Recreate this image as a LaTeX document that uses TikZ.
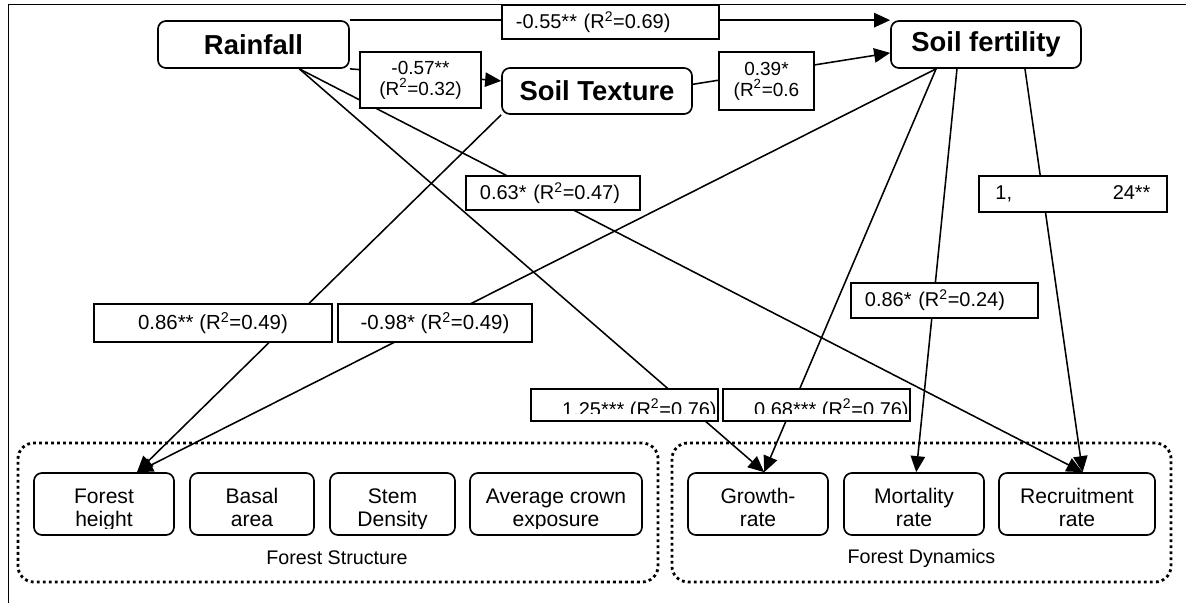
\documentclass[tikz,border=0pt]{standalone}
\usepackage{fontspec}
\setmainfont{Liberation Sans}
\usetikzlibrary{arrows.meta}

\newcommand{\rtwo}{\textsuperscript{2}}

\begin{document}
\begin{tikzpicture}[x=0.025cm, y=-0.025cm,
    var/.style={draw, line width=1.2pt, rounded corners=0.2cm, inner sep=0pt,
      minimum width=4.75cm, minimum height=1.175cm,
      font=\bfseries\fontsize{19.5}{22}\selectfont},
    item/.style={draw, line width=1.2pt, rounded corners=0.2cm, inner sep=0pt,
      minimum height=1.55cm,
      path picture={
        \clip ([yshift=0.175cm]path picture bounding box.south west)
          rectangle (path picture bounding box.north east);
        \node[align=center, inner sep=0pt, font=\fontsize{15}{17}\selectfont]
          at ([yshift=-0.155cm]path picture bounding box.center) {\strut #1\strut};}},
    group/.style={draw, line width=0.07cm, dash pattern=on 0.07cm off 0.08cm,
      rounded corners=0.4cm, minimum height=3.475cm, inner sep=0pt},
    title/.style={font=\fontsize{14}{16}\selectfont},
    coef/.style={draw, fill=white, line width=1.3pt, inner xsep=0.35cm, inner ysep=0pt,
      align=left, font=\fontsize{14.2}{16}\selectfont},
    coefc/.style={draw, fill=white, line width=1.3pt, inner sep=0pt,
      align=center, font=\fontsize{13.5}{15}\selectfont},
    cutcoef/.style={draw, fill=white, line width=1.3pt, inner sep=0pt,
      minimum width=4.675cm, minimum height=0.8cm,
      path picture={
        \clip ([yshift=0.2cm]path picture bounding box.south west)
          rectangle (path picture bounding box.north east);
        \node[anchor=base west, inner sep=0pt, font=\fontsize{14.2}{16}\selectfont]
          at ([xshift=0.35cm, yshift=-0.275cm]path picture bounding box.west) {#1};}}]
  \useasboundingbox (0,0) rectangle (1186,603);
  \draw[line width=1.2pt] (8.5,603) -- (8.5,4.5) -- (1186,4.5);

  % groups
  \node[group, minimum width=16cm] (fs) at (338,512.5) {};
  \node[group, minimum width=12.475cm] (fd) at (921.5,512.5) {};
  \node[title] (fstitle) at (337,558) {Forest Structure};
  \node[title] (fdtitle) at (921.5,558) {Forest Dynamics};

  % drivers
  \node[var, minimum width=4.775cm] (rain) at (253.5,44.5) {Rainfall};
  \node[var] (fert) at (986,44.5) {Soil fertility};
  \node[var, minimum height=1.15cm] (tex) at (597,91) {Soil Texture};

  % forest variables
  \node[item={Forest\\height}, minimum width=3.5cm] (fh) at (104,504) {};
  \node[item={Basal\\area}, minimum width=3.1cm] (ba) at (252,504) {};
  \node[item={Stem\\Density}, minimum width=3.125cm] (sd) at (392.5,504) {};
  \node[item={Average crown\\exposure}, minimum width=4.3cm] (ac) at (556,504) {};
  \node[item={Growth-\\rate}, minimum width=3.5cm] (gr) at (758,504) {};
  \node[item={Mortality\\rate}, minimum width=3.5cm] (mo) at (914,504) {};
  \node[item={Recruitment\\rate}, minimum width=3.9cm] (re) at (1077,504) {};

  \begin{scope}[-{Triangle[length=0.4cm, width=0.36cm]}, line width=1.1pt]
    \draw (rain.north east) to (fert.north west);
    \draw (rain.south east) to (tex.174.6);
    \draw (tex.4.8) to (fert.-175.5);
    \draw (rain.-28.4) to (gr.79);
    \draw (rain.-28.4) to (re.80.8);
    \draw (tex.south west) to (fh.44.1);
    \draw (fert.-154.8) to (fh.44.1);
    \draw (fert.-154.8) to (gr.79);
    \draw (fert.-140) to (mo.86.3);
    \draw (fert.-32.4) to (re.80.8);
  \end{scope}

  % coefficients
  \node[coef, text width=4.725cm, minimum height=0.85cm] (c1) at (610.5,22) {-0.55** (R\rtwo=0.69)};
  \node[coefc, minimum width=3.025cm, minimum height=1.4cm] (c2) at (420.5,80) {-0.57**\\(R\rtwo=0.32)};
  \node[coefc, minimum width=2.375cm, minimum height=1.45cm] (c3) at (766.5,81) {0.39*\\(R\rtwo=0.6};
  \node[coef, text width=3.65cm, minimum height=0.85cm] (c4) at (553,193) {0.63* (R\rtwo=0.47)};
  \node[coef, text width=3.875cm, inner xsep=0.4125cm, minimum height=0.9cm] (c5) at (1073,194) {1,\hfill 24**};
  \node[coefc, font=\fontsize{14.5}{16}\selectfont, minimum width=5.95cm, minimum height=0.95cm] (c6) at (213,323) {0.86** (R\rtwo=0.49)};
  \node[coefc, font=\fontsize{14.5}{16}\selectfont, minimum width=4.85cm, minimum height=0.95cm] (c7) at (435,323) {-0.98* (R\rtwo=0.49)};
  \node[coef, text width=3.975cm, minimum height=0.875cm] (c8) at (944.5,300.5) {0.86* (R\rtwo=0.24)};
  \node[cutcoef={1.25*** (R\rtwo=0.76)}] (c9) at (624.5,405) {};
  \node[cutcoef={0.68*** (R\rtwo=0.76)}] (c10) at (816.5,405) {};
\end{tikzpicture}
\end{document}
